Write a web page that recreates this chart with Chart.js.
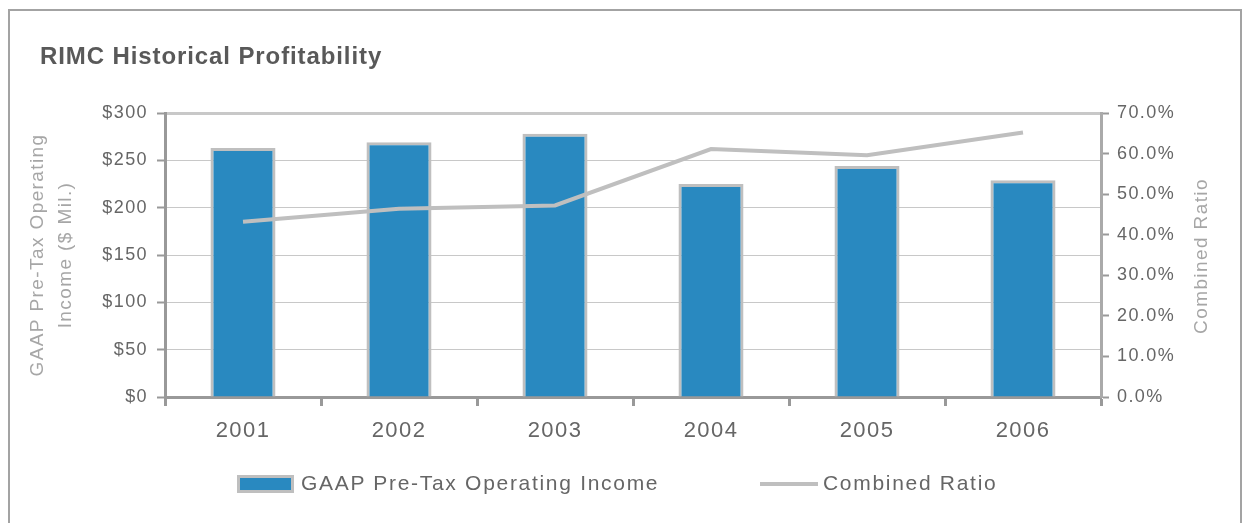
<!DOCTYPE html>
<html>
<head>
<meta charset="utf-8">
<script src="https://cdn.jsdelivr.net/npm/chart.js@4/dist/chart.umd.min.js"></script>
<style>
  html, body { margin:0; padding:0; background:#fff; }
  body { width:1244px; height:523px; position:relative; overflow:hidden; font-family:"Liberation Sans", Arial, sans-serif; }
  #frame { position:absolute; left:8px; top:9px; width:1234px; height:600px; border:2px solid #a3a3a3; box-sizing:border-box; }
  #wrap { position:absolute; left:0; top:0; width:1244px; height:523px; }
  #title { position:absolute; left:40px; top:44px; font-size:24px; line-height:24px; font-weight:bold; color:#595959; letter-spacing:0.9px; white-space:nowrap; }
  .lg { position:absolute; top:472px; font-size:21px; line-height:21px; color:#666; letter-spacing:1.7px; white-space:nowrap; }
  .sw { position:absolute; box-sizing:border-box; }
</style>
</head>
<body>
<div id="frame"></div>
<div id="wrap"><canvas id="c" width="1244" height="523"></canvas></div>
<div id="title"></div>
<div id="legend"></div>
<script>
// ---- data ----
const chartTitle  = 'RIMC Historical Profitability';
const years       = ['2001','2002','2003','2004','2005','2006'];
const income      = [263, 269, 278, 225, 244, 229];        // $ Mil.
const ratio       = [43.2, 46.4, 47.2, 61.1, 59.6, 65.2];   // %
const incomeLabel = 'GAAP Pre-Tax Operating Income';
const ratioLabel  = 'Combined Ratio';
const leftTitle   = ['GAAP Pre-Tax Operating', 'Income ($ Mil.)'];
const rightTitle  = 'Combined Ratio';

const BLUE = '#2989c0', GREY = '#bfbfbf', AXIS = '#999999', TXT = '#666666', LIGHT = '#a6a6a6';
const FONT = '"Liberation Sans", Arial, sans-serif';
const SPACING = '1.4px';

document.getElementById('title').textContent = chartTitle;

// letter spacing for canvas text (canvas state, reapplied before layout and draw)
const spacingPlugin = {
  id:'spacing',
  beforeUpdate(c){ c.ctx.letterSpacing = SPACING; },
  beforeLayout(c){ c.ctx.letterSpacing = SPACING; },
  beforeDraw(c){ c.ctx.letterSpacing = SPACING; },
};

// right axis title reads bottom-to-top
const rightTitlePlugin = {
  id:'rightTitle',
  afterDraw(c){
    const ctx = c.ctx;
    ctx.save();
    ctx.translate(1202, 256);
    ctx.rotate(-Math.PI/2);
    ctx.font = '19px ' + FONT;
    ctx.letterSpacing = SPACING;
    ctx.fillStyle = LIGHT;
    ctx.textAlign = 'center';
    ctx.textBaseline = 'middle';
    ctx.fillText(rightTitle, 0, 0);
    ctx.restore();
  }
};

Chart.defaults.font.family = FONT;

const chart = new Chart(document.getElementById('c'), {
  type:'bar',
  data:{
    labels: years,
    datasets:[
      { type:'line', label:ratioLabel, data:ratio, yAxisID:'y1', borderColor:GREY, backgroundColor:GREY,
        borderWidth:4, pointRadius:0, tension:0, order:1 },
      { type:'bar', label:incomeLabel, data:income, yAxisID:'y', backgroundColor:BLUE, borderColor:GREY,
        borderWidth:3, borderSkipped:'bottom', barPercentage:0.417, categoryPercentage:1, order:2 },
    ]
  },
  options:{
    responsive:false, animation:false,
    layout:{ padding:{ top:113, left:0, right:0, bottom:0 } },
    plugins:{ legend:{display:false}, title:{display:false}, tooltip:{enabled:false} },
    scales:{
      x:{
        grid:{ drawOnChartArea:false, offset:true, tickLength:9, tickColor:AXIS, tickWidth:3 },
        border:{ color:AXIS, width:3 },
        ticks:{ font:{size:22}, color:TXT, padding:12 },
        afterFit:s => { s.height = 126; },
      },
      y:{
        position:'left', min:0, max:300,
        ticks:{ stepSize:50, font:{size:18}, color:TXT, padding:9, callback:v => '$' + v },
        grid:{ color:'#c8c8c8', lineWidth:ctx => ctx.tick && ctx.tick.value === 300 ? 3 : 1, tickColor:AXIS, tickWidth:2, tickLength:8 },
        border:{ color:AXIS, width:3 },
        title:{ display:true, text:leftTitle, color:LIGHT, font:{size:19, lineHeight:1.45}, padding:{top:24, bottom:0} },
        afterFit:s => { s.width = 165; },
      },
      y1:{
        position:'right', min:0, max:70,
        ticks:{ stepSize:10, font:{size:18}, color:TXT, padding:8, callback:v => v.toFixed(1) + '%' },
        grid:{ drawOnChartArea:false, tickColor:AXIS, tickWidth:2, tickLength:8 },
        border:{ color:'#aaaaaa', width:3 },
        afterFit:s => { s.width = 143; },
      },
    },
  },
  plugins:[spacingPlugin, rightTitlePlugin],
});

// legend (built from the datasets)
const lg = document.getElementById('legend');
const items = [
  { ds: chart.data.datasets[1], x:237, textX:301 },
  { ds: chart.data.datasets[0], x:760, textX:823 },
];
items.forEach(it => {
  const sw = document.createElement('div');
  sw.className = 'sw';
  if (it.ds.type === 'bar') {
    Object.assign(sw.style, { left:it.x+'px', top:'475px', width:'57px', height:'18px', background:it.ds.backgroundColor, border:'3px solid '+it.ds.borderColor });
  } else {
    Object.assign(sw.style, { left:it.x+'px', top:'482px', width:'58px', height:'4px', background:it.ds.borderColor });
  }
  lg.appendChild(sw);
  const t = document.createElement('div');
  t.className = 'lg';
  t.style.left = it.textX + 'px';
  t.textContent = it.ds.label;
  lg.appendChild(t);
});
</script>
</body>
</html>
